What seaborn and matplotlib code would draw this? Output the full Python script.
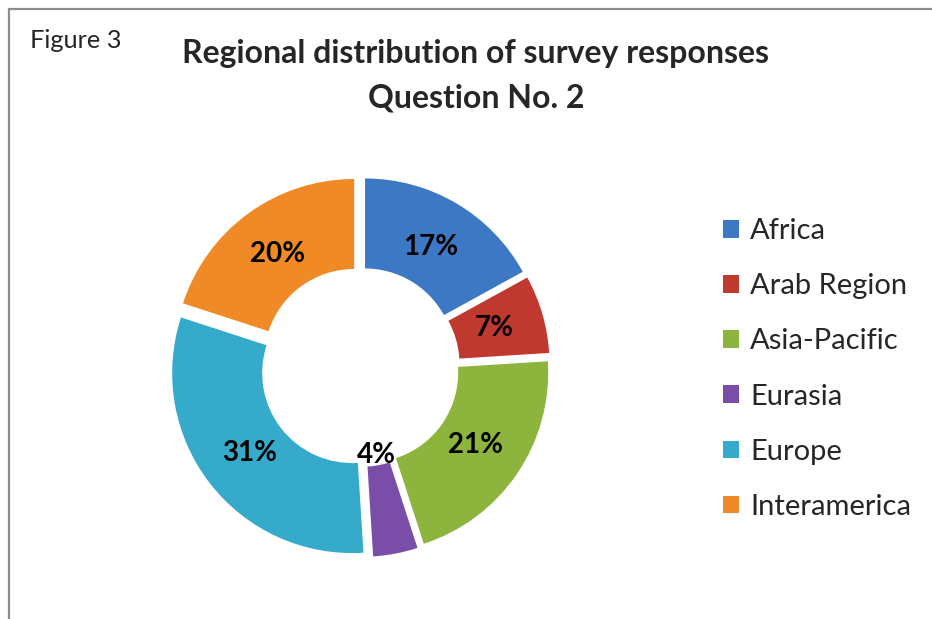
import matplotlib
matplotlib.use("Agg")
import matplotlib.pyplot as plt
import seaborn as sns
import numpy as np

# data
regions = ['Africa', 'Arab Region', 'Asia-Pacific', 'Eurasia', 'Europe', 'Interamerica']
shares = [17, 7, 21, 4, 31, 20]
colors = ['#3C78C3', '#C0392F', '#8DB43C', '#7A4DA8', '#35AACB', '#EF8A26']

sns.set_theme(style='white')
plt.rcParams['font.family'] = ['Lato', 'DejaVu Sans']

fig = plt.figure(figsize=(9.32, 6.19), dpi=100)

# gray frame (top and left edge visible)
fig.add_artist(plt.Line2D([9 / 932, 9 / 932], [0, 1 - 9 / 619], transform=fig.transFigure,
                          color='#8c8c8c', lw=1.6))
fig.add_artist(plt.Line2D([9 / 932, 1], [1 - 9 / 619, 1 - 9 / 619], transform=fig.transFigure,
                          color='#8c8c8c', lw=1.6))

# donut
ax = fig.add_axes([126 / 932, 18 / 619, 468 / 932, 468 / 619])
wedges, texts, autotexts = ax.pie(
    shares, colors=colors, startangle=90, counterclock=False,
    explode=[0.055] * len(shares), radius=1.0,
    wedgeprops=dict(width=0.5, edgecolor='none'),
    autopct='%1.0f%%', pctdistance=0.72,
    textprops=dict(fontsize=20, fontweight='bold', color='black'))
# the small Eurasia label sits near the hole
x, y = autotexts[3].get_position()
autotexts[3].set_position((x * 0.5 / 0.775, y * 0.5 / 0.775))
ax.set_xlim(-1.3, 1.3)
ax.set_ylim(-1.3, 1.3)
ax.set_aspect('equal')
ax.axis('off')

# legend
leg = fig.legend(wedges, regions, loc='center left', bbox_to_anchor=(711 / 932, 1 - 369 / 619),
                 frameon=False, fontsize=21, handlelength=0.55, handleheight=0.55,
                 handletextpad=0.4, labelspacing=1.0, borderaxespad=0)

# titles
fig.text(30 / 932, 1 - 40 / 619, 'Figure 3', fontsize=18.3, va='center', ha='left')
fig.text(476 / 932, 1 - 54 / 619, 'Regional distribution of survey responses',
         fontsize=23, fontweight='bold', ha='center', va='center')
fig.text(476 / 932, 1 - 98 / 619, 'Question No. 2',
         fontsize=23, fontweight='bold', ha='center', va='center')

fig.savefig('out.png', dpi=100, facecolor='white')
